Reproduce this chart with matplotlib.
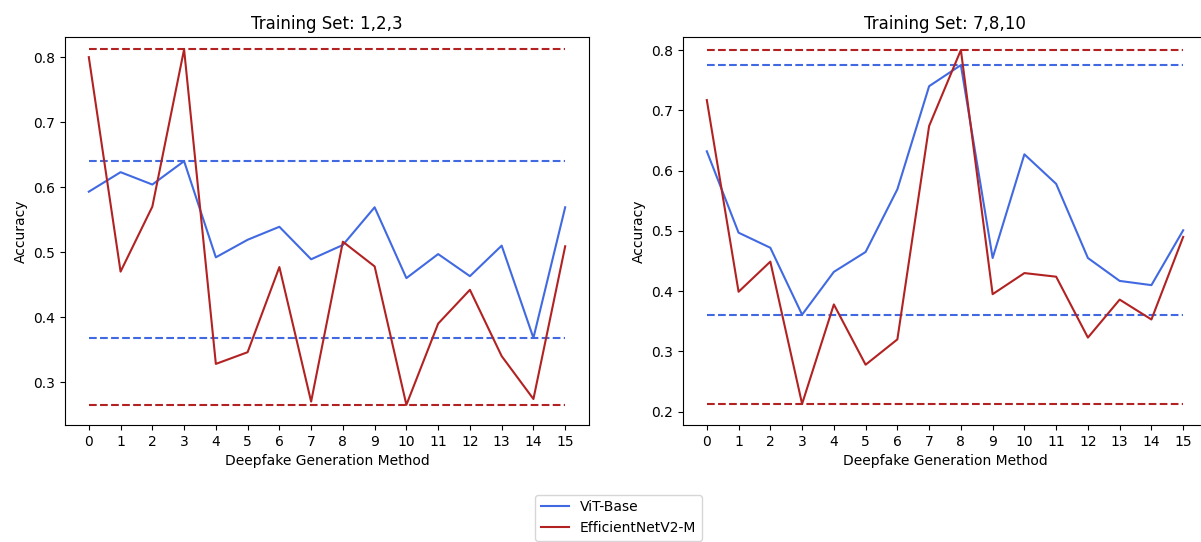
import matplotlib
matplotlib.use("Agg")
import matplotlib.pyplot as plt

# x axis: deepfake generation methods 0..15
methods = list(range(16))

# Training set 1,2,3
vit_123 = [0.593, 0.623, 0.604, 0.640, 0.492, 0.519, 0.539, 0.489,
           0.511, 0.569, 0.460, 0.497, 0.463, 0.510, 0.368, 0.569]
eff_123 = [0.800, 0.470, 0.570, 0.812, 0.328, 0.346, 0.477, 0.270,
           0.516, 0.478, 0.265, 0.390, 0.442, 0.340, 0.274, 0.509]

# Training set 7,8,10
vit_7810 = [0.632, 0.497, 0.472, 0.361, 0.432, 0.465, 0.569, 0.740,
            0.775, 0.455, 0.627, 0.578, 0.455, 0.417, 0.410, 0.501]
eff_7810 = [0.717, 0.399, 0.449, 0.213, 0.378, 0.278, 0.320, 0.674,
            0.800, 0.395, 0.430, 0.424, 0.323, 0.386, 0.353, 0.490]

titles = ["Training Set: 1,2,3", "Training Set: 7,8,10"]
model_names = ["ViT-Base", "EfficientNetV2-M"]
colors = ["royalblue", "firebrick"]

W, H = 1201, 542
fig = plt.figure(figsize=(W / 100, H / 100), dpi=100)
ax1 = fig.add_axes([65 / W, 117 / H, 524 / W, 388 / H])
ax2 = fig.add_axes([683 / W, 117 / H, 524 / W, 388 / H])

panels = [(ax1, [vit_123, eff_123], (0.234, 0.831)),
          (ax2, [vit_7810, eff_7810], (0.178, 0.8216))]

for (ax, series, ylim), title in zip(panels, titles):
    for vals, name, c in zip(series, model_names, colors):
        ax.plot(methods, vals, color=c, label=name)
        # dashed max / min reference lines
        for level in (max(vals), min(vals)):
            ax.plot([methods[0], methods[-1]], [level, level], color=c, linestyle="--")
    ax.set_title(title)
    ax.set_xlabel("Deepfake Generation Method")
    ax.set_ylabel("Accuracy")
    ax.set_xticks(methods)
    ax.set_xlim(-0.75, 15.75)
    ax.set_ylim(*ylim)

handles, labels = ax1.get_legend_handles_labels()
fig.legend(handles, labels, loc="upper center", bbox_to_anchor=(0.515, 0.1))

fig.savefig("out.png", dpi=100)
